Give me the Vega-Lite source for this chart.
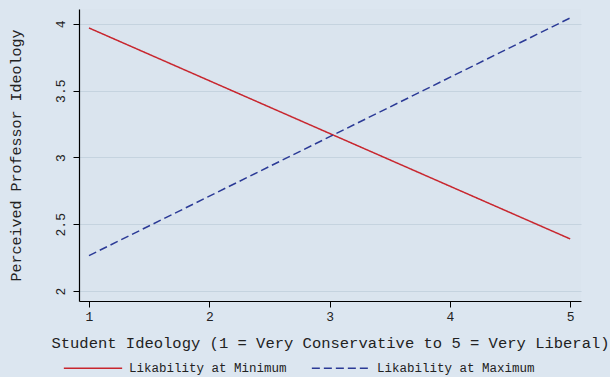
{
  "$schema": "https://vega.github.io/schema/vega-lite/v6.json",
  "width": 502,
  "height": 292,
  "autosize": {"type": "none"},
  "padding": {"left": 79, "top": 9, "right": 29, "bottom": 76},
  "background": "#dce6f0",
  "config": {
    "view": {"fill": "#dae4ee", "stroke": null},
    "font": "Liberation Mono",
    "axis": {"labelFont": "Liberation Mono", "titleFont": "Liberation Mono", "titleFontWeight": "normal", "labelColor": "#222", "titleColor": "#222"},
    "legend": {"labelFont": "Liberation Mono"}
  },
  "data": {
    "values": [
      {"series": "Likability at Minimum", "x": 1, "y": 3.97},
      {"series": "Likability at Minimum", "x": 5, "y": 2.39},
      {"series": "Likability at Maximum", "x": 1, "y": 2.265},
      {"series": "Likability at Maximum", "x": 5, "y": 4.045}
    ]
  },
  "mark": {"type": "line", "strokeWidth": 1.5, "clip": false},
  "encoding": {
    "x": {
      "field": "x", "type": "quantitative",
      "scale": {"domain": [0.917, 5.09], "nice": false, "zero": false},
      "axis": {
        "values": [1, 2, 3, 4, 5], "grid": false, "domainColor": "#000", "domainWidth": 1.2,
        "tickColor": "#000", "tickSize": 6, "labelFontSize": 13, "labelPadding": 3,
        "title": "Student Ideology (1 = Very Conservative to 5 = Very Liberal)",
        "titleFontSize": 15.5, "titlePadding": 12
      }
    },
    "y": {
      "field": "y", "type": "quantitative",
      "scale": {"domain": [1.925, 4.112], "nice": false, "zero": false},
      "axis": {
        "values": [2, 2.5, 3, 3.5, 4], "format": "~g", "grid": true, "gridColor": "#c5d3df", "gridWidth": 1,
        "domainColor": "#000", "domainWidth": 1.2, "tickColor": "#000", "tickSize": 6,
        "labelAngle": -90, "labelAlign": "center", "labelBaseline": "bottom", "labelFontSize": 13, "labelPadding": 6,
        "title": "Perceived Professor Ideology", "titleFontSize": 15, "titlePadding": 31
      }
    },
    "color": {
      "field": "series", "type": "nominal",
      "scale": {"domain": ["Likability at Minimum", "Likability at Maximum"], "range": ["#c8262e", "#2b3a96"]},
      "legend": {
        "title": null, "orient": "none", "legendX": -16, "legendY": 329, "direction": "horizontal", "symbolType": "stroke",
        "symbolSize": 3400, "symbolStrokeWidth": 1.5, "labelFontSize": 12.5, "labelColor": "#222",
        "columnPadding": 21, "labelOffset": 6
      }
    },
    "strokeDash": {
      "field": "series", "type": "nominal",
      "scale": {"domain": ["Likability at Minimum", "Likability at Maximum"], "range": [[1, 0], [8, 4]]},
      "legend": null
    }
  }
}
